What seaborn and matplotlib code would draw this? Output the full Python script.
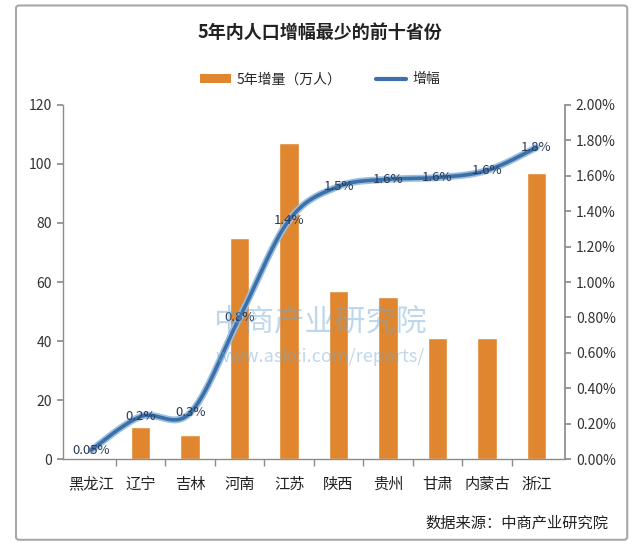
import numpy as np
import pandas as pd
import matplotlib
matplotlib.use("Agg")
import matplotlib.pyplot as plt
import seaborn as sns
from matplotlib.patches import FancyBboxPatch
from matplotlib.lines import Line2D
from matplotlib.patches import Patch
from matplotlib.ticker import FuncFormatter

provinces = ["黑龙江", "辽宁", "吉林", "河南", "江苏", "陕西", "贵州", "甘肃", "内蒙古", "浙江"]
increase = [0.3, 11, 8, 75, 107, 57, 55, 41, 41, 97]
growth_pct = [0.05, 0.24, 0.26, 0.80, 1.35, 1.54, 1.58, 1.59, 1.63, 1.76]
growth_labels = ["0.05%", "0.2%", "0.3%", "0.8%", "1.4%", "1.5%", "1.6%", "1.6%", "1.6%", "1.8%"]
left_ticks = [0, 20, 40, 60, 80, 100, 120]
right_ticks = [0.0, 0.2, 0.4, 0.6, 0.8, 1.0, 1.2, 1.4, 1.6, 1.8, 2.0]

sns.set_theme(style="white")
plt.rcParams['font.family'] = ['Noto Sans CJK SC', 'DejaVu Sans']
plt.rcParams['axes.unicode_minus'] = False

df = pd.DataFrame({"省份": provinces, "增量": increase, "增幅": growth_pct})

fig = plt.figure(figsize=(6.4, 5.48), dpi=100)
fig.patch.set_facecolor("white")
# outer frame
frame = FancyBboxPatch((0.025, 0.015), 0.955, 0.975, boxstyle="round,pad=0,rounding_size=0.005",
                       transform=fig.transFigure, facecolor="none", edgecolor="#a8a8a8",
                       linewidth=1.5, zorder=-1)
fig.patches.append(frame)

ax = fig.add_axes([0.0984, 0.1624, 0.784, 0.646])
ax.set_facecolor("none")
bar_color = "#e0862f"
sns.barplot(data=df, x="省份", y="增量", color=bar_color, width=0.39, ax=ax, saturation=1)
ax.set_xlim(-0.57, 9.57)
ax.set_ylim(0, 120)
ax.set_yticks(left_ticks)
ax.set_xlabel("")
ax.set_ylabel("")
for s in ["top", "right"]:
    ax.spines[s].set_visible(False)
for s in ["left", "bottom"]:
    ax.spines[s].set_color("#8c8c8c")
    ax.spines[s].set_linewidth(1)
ax.tick_params(axis="y", left=True, length=4, color="#8c8c8c", labelsize=10, labelcolor="#333333", pad=4)
ax.tick_params(axis="x", bottom=False, labelsize=11, labelcolor="#222222", pad=6)
# category boundary ticks
ax.set_xticks(np.arange(0.5, 9, 1), minor=True)
ax.tick_params(axis="x", which="minor", bottom=True, length=5, color="#8c8c8c")

ax2 = ax.twinx()
ax2.set_ylim(0, 2.0)
ax2.set_yticks(right_ticks)
ax2.yaxis.set_major_formatter(FuncFormatter(lambda v, p: f"{v:.2f}%"))
for s in ["top", "left", "bottom"]:
    ax2.spines[s].set_visible(False)
ax2.spines["right"].set_color("#8c8c8c")
ax2.tick_params(axis="y", right=True, length=4, color="#8c8c8c", labelsize=10, labelcolor="#333333", pad=4)
ax2.grid(False)
ax.grid(False)

# smooth curve (Catmull-Rom) through the data points
xs = np.arange(len(growth_pct), dtype=float)
ys = np.array(growth_pct)
px = np.concatenate([[xs[0]], xs, [xs[-1]]])
py = np.concatenate([[ys[0]], ys, [ys[-1]]])
cx, cy = [], []
for i in range(1, len(px) - 2):
    t = np.linspace(0, 1, 30)
    p0, p1, p2, p3 = [np.array([px[j], py[j]]) for j in (i - 1, i, i + 1, i + 2)]
    pts = 0.5 * ((2 * p1)[None, :] + (-p0 + p2)[None, :] * t[:, None]
                 + (2 * p0 - 5 * p1 + 4 * p2 - p3)[None, :] * (t ** 2)[:, None]
                 + (-p0 + 3 * p1 - 3 * p2 + p3)[None, :] * (t ** 3)[:, None])
    cx.extend(pts[:, 0]); cy.extend(pts[:, 1])
curve = pd.DataFrame({"x": cx, "y": cy})
ax2.plot(curve["x"], curve["y"], color="#9cc0e0", linewidth=5, solid_capstyle="round", zorder=3)
sns.lineplot(data=curve, x="x", y="y", sort=False, color="#3d6fa8", linewidth=2.6, ax=ax2, zorder=4)
ax2.set_xlabel(""); ax2.set_ylabel("")
ax2.set_xlim(-0.57, 9.57)

for x, y, lab in zip(xs, ys, growth_labels):
    ax2.text(x, y, lab, ha="center", va="center", fontsize=9.5, color="#2a3a55", zorder=6)

# watermark
fig.text(0.5, 0.413, "中商产业研究院", ha="center", va="center", fontsize=22, color="#6fa8d6", alpha=0.45, zorder=10)
fig.text(0.5, 0.349, "www.askci.com/reports/", ha="center", va="center", fontsize=13, color="#6fa8d6", alpha=0.45, zorder=10)

fig.text(0.5, 0.94, "5年内人口增幅最少的前十省份", ha="center", va="center", fontsize=13, fontweight="bold", color="#222222")

handles = [Patch(facecolor=bar_color, edgecolor="none", label="5年增量（万人）"),
           Line2D([0], [0], color="#3d6fa8", linewidth=3, label="增幅")]
fig.legend(handles=handles, loc="center", bbox_to_anchor=(0.5, 0.855), ncol=2, frameon=False,
           fontsize=10, handlelength=2.2, columnspacing=2.5, handletextpad=0.4)

fig.text(0.95, 0.045, "数据来源：中商产业研究院", ha="right", va="center", fontsize=11, color="#222222")

fig.savefig("out.png", dpi=100, facecolor="white")
